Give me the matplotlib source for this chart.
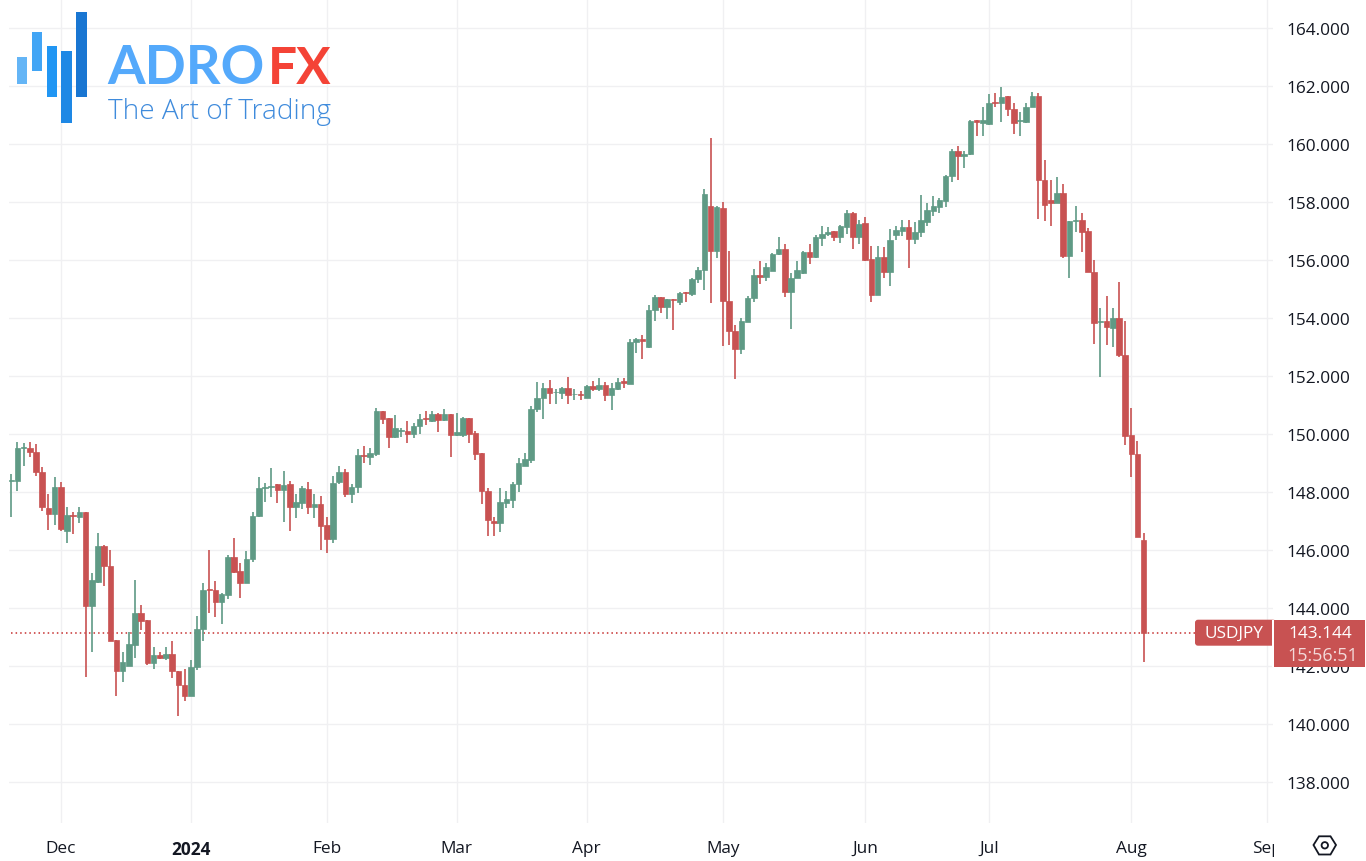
import matplotlib
matplotlib.use("Agg")
import matplotlib.pyplot as plt
from matplotlib.patches import Rectangle, Polygon, Circle, FancyBboxPatch
from matplotlib.transforms import Affine2D, Bbox

opens = [148.37,148.38,149.51,149.52,149.38,148.67,147.45,147.23,148.15,146.66,
147.19,147.14,147.29,144.07,144.87,146.13,145.44,142.87,141.83,142.00,
142.72,143.82,143.56,142.09,142.37,142.25,142.39,141.80,141.34,140.94,
141.97,143.25,144.65,144.60,144.21,144.45,145.74,145.25,144.85,145.67,
147.15,148.14,148.17,148.25,148.06,148.25,147.46,147.61,148.08,147.47,
147.57,146.85,146.37,148.34,148.67,147.92,148.16,149.27,149.20,149.31,
150.77,150.53,149.87,150.09,150.09,149.98,150.28,150.54,150.45,150.68,
150.48,150.68,149.97,149.97,150.54,150.02,149.33,148.03,147.00,146.91,
147.61,147.72,148.26,148.90,149.10,150.85,151.24,151.59,151.42,151.39,
151.56,151.36,151.37,151.24,151.66,151.53,151.68,151.32,151.53,151.82,
151.72,153.16,153.28,153.00,154.26,154.72,154.36,154.66,154.54,154.89,
154.80,155.34,155.63,157.86,156.30,157.79,154.57,153.55,152.91,153.85,
154.69,155.48,155.39,155.62,156.20,156.38,154.87,155.38,155.55,156.26,
156.10,156.76,156.87,156.98,156.79,157.14,157.62,156.79,157.25,156.01,
154.78,156.09,155.56,156.85,156.99,157.13,156.70,156.95,157.31,157.68,
157.83,158.03,158.89,159.76,159.56,159.66,160.80,160.72,160.67,161.44,
161.40,161.63,161.20,160.78,160.74,161.26,161.64,158.76,158.07,157.95,
158.29,156.14,157.35,157.37,156.98,155.56,153.85,153.87,153.64,153.99,
152.71,149.95,149.30,146.33]

closes = [148.41,149.51,149.53,149.38,148.67,147.46,147.23,148.15,146.71,147.20,
147.15,147.29,144.07,144.94,146.13,145.43,142.86,141.83,142.11,142.74,
143.82,143.55,142.09,142.37,142.25,142.39,141.80,141.34,140.94,141.97,
143.25,144.61,144.60,144.21,144.46,145.74,145.23,144.85,145.67,147.16,
148.14,148.17,148.20,148.06,148.23,147.46,147.64,148.11,147.47,147.57,
146.83,146.37,148.29,148.67,147.92,148.16,149.28,149.23,149.33,150.77,
150.51,149.87,150.18,150.12,149.98,150.28,150.51,150.50,150.68,150.48,
150.68,149.97,150.05,150.54,150.00,149.31,148.03,147.03,146.91,147.63,
147.75,148.26,148.98,149.11,150.85,151.23,151.59,151.39,151.44,151.56,
151.32,151.38,151.34,151.66,151.53,151.68,151.32,151.57,151.78,151.75,
153.16,153.28,153.20,154.26,154.72,154.36,154.64,154.62,154.86,154.85,
155.34,155.66,158.28,156.30,157.80,154.57,153.54,152.91,153.87,154.69,
155.47,155.39,155.75,156.20,156.38,154.87,155.38,155.66,156.28,156.10,
156.79,156.88,156.94,156.79,157.15,157.62,156.79,157.23,155.99,154.78,
156.09,155.56,156.67,157.02,157.13,156.70,156.95,157.37,157.71,157.84,
158.06,158.90,159.76,159.56,159.64,160.78,160.76,160.82,161.40,161.40,
161.61,161.18,160.72,160.82,161.26,161.64,158.76,157.87,157.95,158.30,
156.14,157.33,157.38,156.97,155.56,153.83,153.88,153.69,153.99,152.71,
149.93,149.30,146.45,143.144]

highs = [148.61,149.72,149.68,149.70,149.64,148.84,147.91,148.52,148.32,147.46,
147.29,147.48,147.29,145.20,146.57,146.16,146.00,142.88,142.46,143.15,
144.94,144.09,143.56,142.66,142.46,142.64,142.85,141.80,141.90,142.21,
143.70,144.84,145.98,144.91,144.50,145.82,146.40,145.54,145.94,147.29,
148.52,148.30,148.80,148.26,148.70,148.38,147.92,148.20,148.32,147.92,
147.86,147.11,148.55,148.87,148.78,148.26,149.47,149.56,149.50,150.87,
150.77,150.54,150.64,150.18,150.43,150.37,150.68,150.77,150.79,150.70,
150.85,150.68,150.70,150.56,150.54,150.08,149.33,148.11,147.14,148.14,
148.03,148.34,149.16,149.33,150.94,151.79,151.76,151.86,151.55,151.61,
151.97,151.53,151.48,151.67,151.82,151.93,151.78,151.76,151.93,151.93,
153.25,153.31,153.39,154.43,154.77,154.72,154.64,154.66,154.88,154.89,
155.37,155.76,158.43,160.20,157.85,157.99,156.29,153.74,154.00,154.74,
155.67,155.94,155.90,156.24,156.78,156.54,155.55,155.95,156.31,156.54,
156.86,157.17,157.11,156.98,157.21,157.71,157.64,157.37,157.46,156.48,
156.46,156.45,157.06,157.17,157.36,157.37,157.30,158.23,157.94,158.21,
158.11,158.92,159.82,159.93,159.76,160.83,160.82,161.28,161.71,161.74,
161.94,161.66,161.39,161.10,161.40,161.77,161.74,159.44,158.76,158.84,
158.60,157.34,157.86,157.60,157.08,155.99,154.32,154.74,154.33,155.22,
153.87,150.87,149.76,146.56]

lows = [147.14,148.02,148.90,149.18,148.55,147.34,146.67,146.85,146.66,146.22,
146.55,146.91,141.62,142.48,144.85,144.74,142.86,140.94,141.43,142.00,
142.25,143.24,142.03,141.89,142.23,142.21,141.56,140.28,140.79,140.94,
141.85,142.86,143.82,143.67,143.44,144.30,145.20,144.33,144.85,145.59,
147.13,147.65,147.83,147.61,146.97,146.66,147.10,147.40,147.23,147.09,
146.00,145.90,146.24,148.26,147.80,147.62,147.94,148.99,148.93,149.24,
150.34,149.50,149.84,149.87,149.68,149.85,149.99,150.30,150.39,150.05,
150.45,149.21,149.93,149.90,149.68,149.10,147.57,146.48,146.48,146.62,
147.44,147.44,148.00,148.90,149.00,150.74,150.50,151.02,151.03,151.20,
151.02,151.15,151.17,151.24,151.47,151.46,151.12,150.80,151.52,151.57,
151.70,152.78,152.59,152.97,153.87,154.17,153.97,153.59,154.45,154.54,
154.75,155.20,154.97,154.52,156.06,153.01,153.07,151.87,152.74,153.85,
154.54,155.15,155.25,155.62,156.15,154.70,153.62,155.38,155.52,155.84,
156.07,156.48,156.80,156.63,156.57,156.89,156.37,156.54,155.97,154.53,
154.78,155.36,155.10,156.69,156.83,155.72,156.55,156.79,157.17,157.52,
157.60,157.80,158.67,158.76,159.17,159.60,160.28,160.25,160.66,161.25,
160.76,160.94,160.33,160.25,160.72,161.25,157.40,157.34,157.16,157.95,
156.05,155.36,156.94,156.28,155.56,153.09,151.94,153.07,153.00,152.66,
149.61,148.49,146.42,142.14]

month_index = [8, 29, 51, 72, 93, 115, 138, 158, 181, 203]
month_labels = ["Dec", "2024", "Feb", "Mar", "Apr", "May", "Jun", "Jul", "Aug", "Sep"]
price_ticks = list(range(138, 166, 2))
last_price = 143.144
symbol = "USDJPY"
countdown = "15:56:51"

UP = "#5f9a85"
DOWN = "#c85252"
GRID = "#f0f0f2"
INK = "#131722"
FONT = "Open Sans"
LABEL_SIZE = 12.4

W, H = 1366, 862
fig = plt.figure(figsize=(W / 100, H / 100), dpi=100, facecolor="white")
px = Affine2D().scale(1 / W, -1 / H).translate(0, 1) + fig.transFigure

# plot area spans pixels x 9-1273, y 0-824
ax = fig.add_axes([9 / W, (H - 824) / H, 1264 / W, 824 / H])
ax.set_xlim(-0.37, 203.9)
ax.set_ylim(136.575, 164.989)
for s in ax.spines.values():
    s.set_visible(False)

ax.set_axisbelow(True)
ax.grid(True, color=GRID, lw=1.0)
ax.yaxis.tick_right()
ax.set_yticks(price_ticks, [f"{p:.3f}" for p in price_ticks])
ax.set_xticks(month_index, month_labels)
ax.tick_params(axis="both", length=0, labelcolor=INK, labelsize=LABEL_SIZE)
ax.tick_params(axis="y", pad=10)
ax.tick_params(axis="x", pad=12)
clip = Bbox([[0, 0], [1274, H]])
for lab in ax.get_xticklabels() + ax.get_yticklabels():
    lab.set_fontfamily(FONT)
for lab in ax.get_xticklabels():
    lab.set_clip_on(True)
    lab.set_clip_box(clip)
ax.get_xticklabels()[1].set_fontweight("bold")

idx = list(range(len(closes)))
colors = [UP if c >= o else DOWN for o, c in zip(opens, closes)]
bottoms = [min(o, c) for o, c in zip(opens, closes)]
heights = [abs(c - o) for o, c in zip(opens, closes)]

ax.axhline(last_price, xmin=0.0015, xmax=(1195 - 9) / 1264, color="#c62f2f", lw=1.1,
           ls=(0, (1, 2.0)), zorder=2)
ax.vlines(idx, lows, highs, colors=colors, lw=1.2, zorder=3)
ax.bar(idx, heights, bottom=bottoms, width=0.9, color=colors, edgecolor=colors, linewidth=0.5, zorder=4)

# Price tags
fig.add_artist(FancyBboxPatch((1195, 620.7), 81, 26, boxstyle="round,pad=0,rounding_size=3",
                              mutation_aspect=1, transform=px, fc=DOWN, ec="none", zorder=6))
fig.add_artist(Rectangle((1272.3, 620.7), 1.2, 47, transform=px, fc="white", ec="none", zorder=7))
fig.add_artist(Rectangle((1273.5, 620.7), 91, 47, transform=px, fc=DOWN, ec="none", zorder=7))
fig.text(1234, 634, symbol, transform=px, color="white", fontsize=LABEL_SIZE, family=FONT,
         ha="center", va="center", zorder=8)
fig.text(1320, 634, f"{last_price:.3f}", transform=px, color="white", fontsize=LABEL_SIZE, family=FONT,
         ha="center", va="center", zorder=8)
fig.text(1322.5, 656, countdown, transform=px, color="#f3d9d9", fontsize=12.9, family=FONT,
         ha="center", va="center", zorder=8)

# Settings icon
fig.add_artist(Polygon([(1313.5, 846), (1319, 837.3), (1330.5, 837.3), (1336, 846), (1330.5, 855.5), (1319, 855.5)],
                       closed=True, transform=px, fc="none", ec=INK, lw=1.3, zorder=6))
fig.add_artist(Circle((1324.8, 846.3), 3.2, transform=px, fc="none", ec=INK, lw=1.3, zorder=6))

# Logo
for x0, x1, y0, y1, col in [(17, 27.3, 58, 85, "#64b5f6"), (32, 42, 32.7, 71.7, "#42a5f5"),
                            (46.7, 56.7, 47, 98, "#2196f3"), (61.3, 71.7, 52, 123.7, "#1e88e5"),
                            (76.3, 86.7, 13, 98, "#1976d2")]:
    fig.add_artist(Rectangle((x0, y0), x1 - x0, y1 - y0, transform=px, fc=col, ec="none", zorder=6))
fig.text(107.5, 84.5, "ADRO", transform=px, color="#54a9fb", fontsize=39, fontweight="bold", family="Lato",
         ha="left", va="baseline", zorder=6)
fig.text(268, 84.5, "FX", transform=px, color="#f44336", fontsize=37, fontweight="bold", family="Lato",
         ha="left", va="baseline", zorder=6)
fig.text(108.5, 119, "The Art of Trading", transform=px, color="#3f8bdc", fontsize=20.2, family="Open Sans",
         fontweight="light", ha="left", va="baseline", zorder=6)

fig.savefig("out.png", dpi=100, facecolor="white")
